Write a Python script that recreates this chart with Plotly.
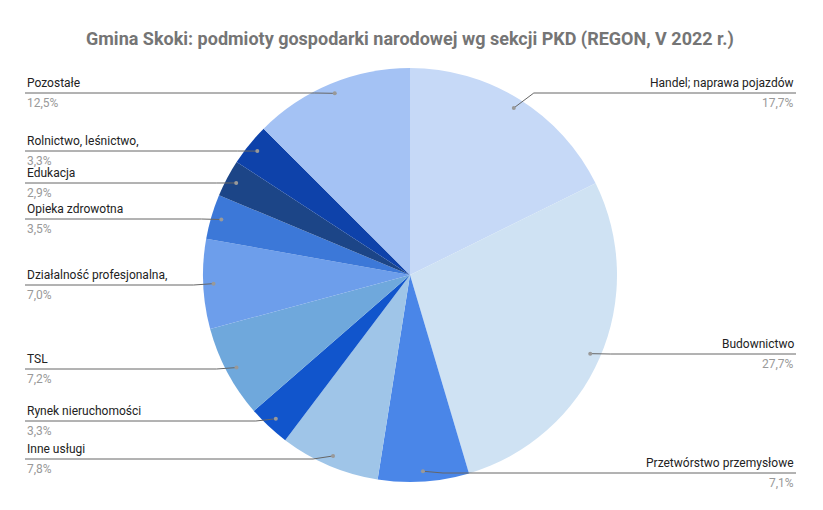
import math
import plotly.graph_objects as go

labels = ["Handel; naprawa pojazdów", "Budownictwo", "Przetwórstwo przemysłowe", "Inne usługi",
          "Rynek nieruchomości", "TSL", "Działalność profesjonalna,", "Opieka zdrowotna",
          "Edukacja", "Rolnictwo, leśnictwo,", "Pozostałe"]
values = [17.7, 27.7, 7.1, 7.8, 3.3, 7.2, 7.0, 3.5, 2.9, 3.3, 12.5]
pct_text = ["17,7%", "27,7%", "7,1%", "7,8%", "3,3%", "7,2%", "7,0%", "3,5%", "2,9%", "3,3%", "12,5%"]
colors = ["#c6d9f7", "#cfe2f3", "#4a86e8", "#9fc5e8", "#1155cc", "#6fa8dc",
          "#6d9eeb", "#3c78d8", "#1c4587", "#0e42aa", "#a4c2f4"]
label_line_y = [92, 353, 472, 458, 420, 368, 284, 218, 182, 150, 92]

W, H = 823, 510
OX, OY = -9, -7  # compensate page offset
cx, cy, R = 411, 274, 207

def tx(x):
    return (x + OX) / W

def ty(y):
    return 1 - (y + OY) / H

fig = go.Figure(go.Pie(
    labels=labels, values=values, sort=False, direction="clockwise",
    marker=dict(colors=colors, line=dict(width=0)), textinfo="none",
    hoverinfo="label+percent",
    domain=dict(x=[tx(cx - R), tx(cx + R)], y=[ty(cy + R), ty(cy - R)]),
))

shapes, annos = [], []
total = sum(values)
cum = 0
for lab, v, pt, ly in zip(labels, values, pct_text, label_line_y):
    mid = (cum + v / 2) / total * 2 * math.pi
    cum += v
    dx, dy = cx + 0.95 * R * math.sin(mid), cy - 0.95 * R * math.cos(mid)
    right = math.sin(mid) > 0
    ex = 797 if right else 26
    kink = dx + (20 if right else -20)
    shapes.append(dict(type="line", xref="paper", yref="paper", x0=tx(ex), y0=ty(ly), x1=tx(kink), y1=ty(ly),
                       line=dict(color="#666666", width=1), layer="above"))
    shapes.append(dict(type="line", xref="paper", yref="paper", x0=tx(kink), y0=ty(ly), x1=tx(dx), y1=ty(dy),
                       line=dict(color="#666666", width=1), layer="above"))
    shapes.append(dict(type="circle", xref="paper", yref="paper", x0=tx(dx - 2), y0=ty(dy + 2), x1=tx(dx + 2), y1=ty(dy - 2),
                       fillcolor="#999999", line=dict(width=0), layer="above"))
    anchor = "right" if right else "left"
    annos.append(dict(x=tx(ex), y=ty(ly - 1), xref="paper", yref="paper", text=lab, showarrow=False,
                      xanchor=anchor, yanchor="bottom", font=dict(size=12, color="#222222", family="Roboto")))
    annos.append(dict(x=tx(ex), y=ty(ly + 1), xref="paper", yref="paper", text=pt, showarrow=False,
                      xanchor=anchor, yanchor="top", font=dict(size=12, color="#999999", family="Roboto")))

annos.append(dict(x=tx(411), y=ty(38), xref="paper", yref="paper", showarrow=False,
                  text="<b>Gmina Skoki: podmioty gospodarki narodowej wg sekcji PKD (REGON, V 2022 r.)</b>",
                  font=dict(size=18, color="#757575", family="Roboto"), xanchor="center", yanchor="middle"))

fig.update_layout(width=W, height=H, margin=dict(l=0, r=0, t=0, b=0), showlegend=False,
                  paper_bgcolor="white", shapes=shapes, annotations=annos)
fig.write_html("out.html")
